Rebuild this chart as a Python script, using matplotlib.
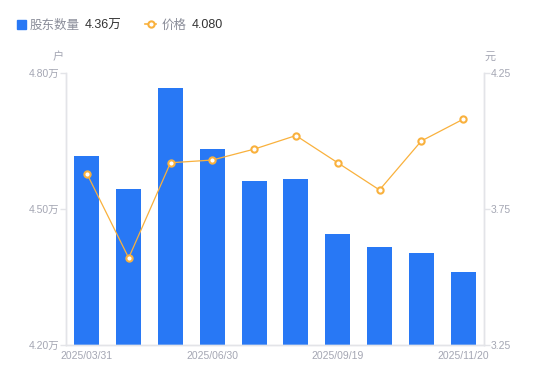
import numpy as np
import matplotlib.pyplot as plt

plt.rcParams['font.family'] = ['Liberation Sans', 'Noto Sans CJK SC', 'DejaVu Sans']

dates = ["2025/03/31", "", "", "2025/06/30", "", "", "2025/09/19", "", "", "2025/11/20"]
holders = [4.617, 4.545, 4.767, 4.632, 4.562, 4.566, 4.445, 4.416, 4.402, 4.36]  # 万户
price = [3.88, 3.57, 3.92, 3.93, 3.97, 4.02, 3.92, 3.82, 4.00, 4.08]

blue = "#2878f5"
orange = "#f9b13d"
grey = "#a4a6b3"
axcol = "#e3e4e8"

fig = plt.figure(figsize=(5.5, 3.81), dpi=100)
ax = fig.add_axes([66 / 550, 36 / 381, 418 / 550, 272 / 381])
ax2 = ax.twinx()

x = np.arange(len(holders))
ax.bar(x, holders, width=0.6, color=blue, zorder=2)
ax.set_xlim(-0.5, len(holders) - 0.5)
ax.set_ylim(4.20, 4.80)
ax.set_yticks([4.20, 4.50, 4.80])
ax.set_yticklabels(["4.20万", "4.50万", "4.80万"])
ax.set_xticks(x)
ax.set_xticklabels(dates)

ax2.plot(x, price, color=orange, lw=0.9, marker="o", ms=4.5, mfc="white",
         mec=orange, mew=1.5, zorder=3)
ax2.set_ylim(3.25, 4.25)
ax2.set_yticks([3.25, 3.75, 4.25])
ax2.set_yticklabels(["3.25", "3.75", "4.25"])

for a in (ax, ax2):
    a.spines["top"].set_visible(False)
    for s in ("left", "right", "bottom"):
        a.spines[s].set_color(axcol)
        a.spines[s].set_linewidth(1)
    a.tick_params(axis="y", colors=axcol, labelcolor=grey, labelsize=7.5, length=4, width=1, pad=1)
    a.tick_params(axis="x", length=0, labelcolor=grey, labelsize=7.5, pad=4)

ax.set_zorder(ax2.get_zorder() - 1)
ax2.patch.set_visible(False)
ax.patch.set_visible(False)

fig.text(58 / 550, 1 - 57 / 381, "户", color=grey, fontsize=8, ha="center", va="center")
fig.text(490 / 550, 1 - 57 / 381, "元", color=grey, fontsize=8, ha="center", va="center")

# legend
ly = 1 - 24 / 381
ty = 1 - 25.5 / 381
fig.patches.append(plt.Rectangle((17 / 550, ly - 4.5 / 381), 9 / 550, 9 / 381,
                                 transform=fig.transFigure, color=blue))
fig.text(30 / 550, ty, "股东数量", color="#8a8d99", fontsize=9, va="center")
fig.text(85 / 550, ty, "4.36万", color="#333333", fontsize=9, va="center")
fig.lines.append(plt.Line2D([145 / 550, 156 / 550], [ly, ly], transform=fig.transFigure,
                            color=orange, lw=1.2))
fig.lines.append(plt.Line2D([150.5 / 550], [ly], transform=fig.transFigure, marker="o",
                            ms=4.5, mfc="white", mec=orange, mew=1.5))
fig.text(162 / 550, ty, "价格", color="#8a8d99", fontsize=9, va="center")
fig.text(192 / 550, ty, "4.080", color="#333333", fontsize=9, va="center")

fig.savefig("out.png", dpi=100)
